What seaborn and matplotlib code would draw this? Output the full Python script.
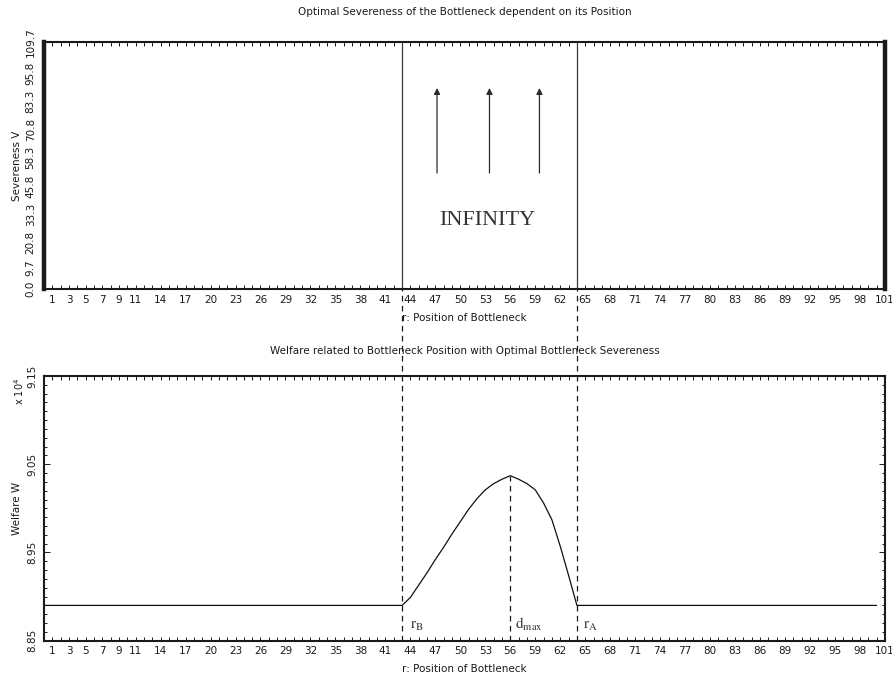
import matplotlib
matplotlib.use("Agg")
import matplotlib.pyplot as plt
import matplotlib.transforms as mtransforms
from matplotlib.ticker import FixedLocator, MultipleLocator
import seaborn as sns

# ---- data -------------------------------------------------------------
# bottleneck positions on the road (r) and the welfare obtained with the
# optimal severeness at that position (in units of 10^4)
position = [0, 43, 44, 45, 46, 47, 48, 49, 50, 51, 52, 53, 54, 55, 56,
            57, 58, 59, 60, 61, 62, 63, 64, 100]
welfare = [8.890, 8.890, 8.899, 8.913, 8.927, 8.942, 8.956, 8.971, 8.985,
           8.999, 9.011, 9.021, 9.028, 9.033, 9.037, 9.033, 9.028, 9.021,
           9.006, 8.987, 8.957, 8.924, 8.890, 8.890]

r_B = 43       # start of the region with infinite severeness
r_A = 64       # end of that region
d_max = 56     # welfare-maximising position

x_ticks = [1, 3, 5, 7, 9, 11] + list(range(14, 102, 3))
sev_ticks = [0.0, 9.7, 20.8, 33.3, 45.8, 58.3, 70.8, 83.3, 95.8, 109.7]
sev_tick_labels = ["0.0", "9.7", "20.8", "33.3", "45.8", "58.3", "70.8",
                   "83.3", "95.8", "109.7"]
wel_ticks = [8.85, 8.95, 9.05, 9.15]
wel_tick_labels = ["8.85", "8.95", "9.05", "9.15"]

arrow_x = [47.2, 53.5, 59.5]
arrow_from, arrow_to = 51.5, 89.2

# ---- style --------------------------------------------------------------
sns.set_style("ticks")
plt.rcParams["font.family"] = ["DejaVu Sans"]
plt.rcParams["font.size"] = 7.5
ink = "#1a1a1a"

fig = plt.figure(figsize=(8.92, 6.79), dpi=100)
W, H = 892, 679


def frame(x0, y0, x1, y1):
    return [x0 / W, 1 - y1 / H, (x1 - x0) / W, (y1 - y0) / H]


ax1 = fig.add_axes(frame(44, 41.7, 885, 289.3))
ax2 = fig.add_axes(frame(44, 376, 885, 640.7))

for ax in (ax1, ax2):
    ax.set_xlim(0, 101)
    ax.xaxis.set_major_locator(FixedLocator(x_ticks))
    ax.xaxis.set_minor_locator(MultipleLocator(1))
    ax.set_xticklabels([str(t) for t in x_ticks])
    ax.tick_params(axis="x", which="both", direction="in", top=True,
                   bottom=True, length=3, width=0.7, color=ink,
                   labelsize=7.5, labelcolor=ink, pad=4)
    ax.set_xlabel("r: Position of Bottleneck", fontsize=7.5, color=ink)
    for s in ax.spines.values():
        s.set_linewidth(1.5)
        s.set_color(ink)

# ---- top panel: optimal severeness --------------------------------------
ax1.set_ylim(0, 109.7)
ax1.set_yticks(sev_ticks)
ax1.set_yticklabels(sev_tick_labels, rotation=90, va="center")
ax1.tick_params(axis="y", which="both", direction="in", left=True,
                right=True, length=0, labelsize=7.5, labelcolor=ink, pad=6)
ax1.spines["left"].set_linewidth(3.2)
ax1.spines["right"].set_linewidth(3.2)
ax1.set_ylabel("Severeness V", fontsize=7.5, color=ink)
ax1.yaxis.set_label_coords(-0.026, 0.5)
ax1.xaxis.set_label_coords(0.5, -0.095)
ax1.set_title("Optimal Severeness of the Bottleneck dependent on its Position",
              fontsize=7.5, color=ink, pad=19)

for xv in (r_B, r_A):
    ax1.axvline(xv, color="#3a3a3a", lw=0.9)

for xa in arrow_x:
    ax1.annotate("", xy=(xa, arrow_to), xytext=(xa, arrow_from),
                 arrowprops=dict(arrowstyle="-|>", color="#2a2a2a", lw=0.9,
                                 mutation_scale=9, shrinkA=0, shrinkB=0))

ax1.text(53.2, 30.7, "INFINITY", ha="center", va="center",
         family="Liberation Serif", fontsize=16, color="#333333")

# ---- bottom panel: welfare ---------------------------------------------
sns.lineplot(x=position, y=welfare, ax=ax2, color="#111111", lw=0.9,
             estimator=None, sort=False)
ax2.set_ylim(8.85, 9.15)
ax2.set_yticks(wel_ticks)
ax2.set_yticklabels(wel_tick_labels, rotation=90, va="center")
ax2.yaxis.set_minor_locator(MultipleLocator(0.01))
ax2.tick_params(axis="y", which="major", direction="in", left=True,
                right=True, length=4.5, width=0.7, color=ink,
                labelsize=7.5, labelcolor=ink, pad=5)
ax2.tick_params(axis="y", which="minor", direction="in", left=True,
                right=True, length=2.2, width=0.7, color=ink)
ax2.set_ylabel("Welfare W", fontsize=7.5, color=ink)
ax2.yaxis.set_label_coords(-0.026, 0.5)
ax2.xaxis.set_label_coords(0.5, -0.088)
ax2.set_title("Welfare related to Bottleneck Position with Optimal "
              "Bottleneck Severeness", fontsize=7.5, color=ink, pad=16)
fig.text(19 / W, 1 - 391 / H, r"x 10$^{4}$", rotation=90, ha="center",
         va="center", fontsize=7, color=ink)

# dashed guides at r_B and r_A run from the top panel down to the W axis
p1, p2 = ax1.get_position(), ax2.get_position()
y_top = (p1.y0 - p2.y0) / p2.height
guide = mtransforms.blended_transform_factory(ax2.transData, ax2.transAxes)
for xv in (r_B, r_A):
    ax2.plot([xv, xv], [0, y_top], transform=guide, clip_on=False,
             color=ink, lw=0.9, dashes=(4.5, 3.5))

peak = welfare[position.index(d_max)]
ax2.plot([d_max, d_max], [8.85, peak], color=ink, lw=0.9, dashes=(4.5, 3.5))

lab_kw = dict(math_fontfamily="stix", fontsize=11, color="#333333",
              va="baseline", ha="left")
ax2.text(r_B + 1.0, 8.863, r"$\mathrm{r_{B}}$", **lab_kw)
ax2.text(d_max + 0.6, 8.863, r"$\mathrm{d_{max}}$", **lab_kw)
ax2.text(r_A + 0.7, 8.863, r"$\mathrm{r_{A}}$", **lab_kw)

fig.savefig("out.png", dpi=100)
